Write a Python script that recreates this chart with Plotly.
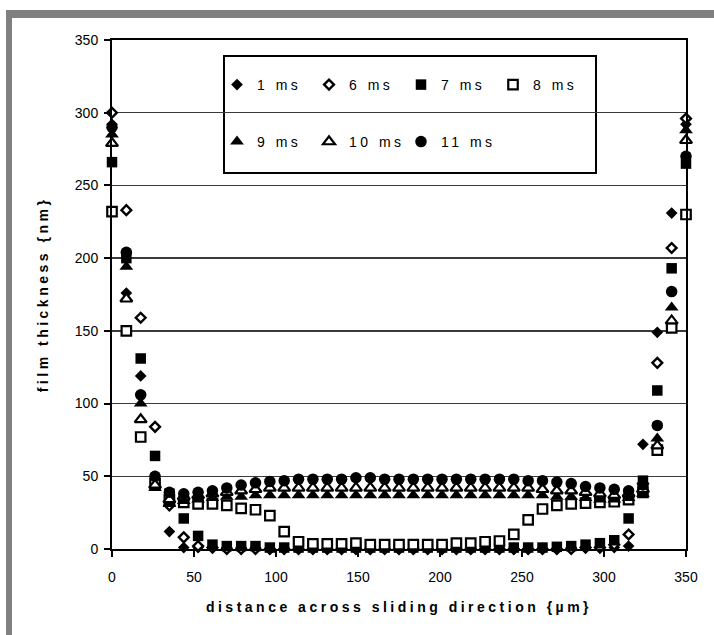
import plotly.graph_objects as go

# distance across sliding direction (um)
x_um = [0, 8.75, 17.5, 26.25, 35, 43.75, 52.5, 61.25, 70, 78.75, 87.5, 96.25, 105,
        113.75, 122.5, 131.25, 140, 148.75, 157.5, 166.25, 175, 183.75, 192.5, 201.25,
        210, 218.75, 227.5, 236.25, 245, 253.75, 262.5, 271.25, 280, 288.75, 297.5,
        306.25, 315, 323.75, 332.5, 341.25, 350]

# film thickness (nm) for each time step
ms1 = [292, 176, 119, 50, 12, 1, 1, 1, 1, 1, 1, 0, 0, 0, 0, 0, 0, 0, 0, 0, 0,
       0, 0, 0, 0, 0, 0, 0, 0, 0, 0, 0, 1, 1, 1, 1, 2, 72, 149, 231, 292]
ms6 = [300, 233, 159, 84, 30, 8, 2, 1, 0, 0, 0, 0, 0, 0, 0, 0, 0, 0, 0, 0, 0,
       0, 0, 0, 0, 0, 0, 0, 0, 0, 0, 0, 0, 1, 1, 3, 10, 45, 128, 207, 296]
ms7 = [266, 200, 131, 64, 38, 21, 9, 3, 2, 2, 2, 1, 1, 1, 1, 1, 1, 1, 1, 1, 1,
       1, 1, 1, 1, 1, 1, 1, 1, 1, 1, 1.5, 2, 3, 4, 6, 21, 47, 109, 193, 265]
ms8 = [232, 150, 77, 45, 34, 32, 31, 31, 30, 28, 27, 23, 12, 5, 3.5, 3.5, 3.5, 4, 3, 3, 3,
       3, 3, 3, 4, 4, 5, 5.5, 10, 20, 27.5, 30, 31, 31.5, 32, 32.5, 34, 39, 68, 152, 230]
ms9 = [285, 194, 100, 42, 31, 33, 34, 35, 36, 36, 37, 37, 37, 37, 37, 37, 37, 37, 37, 37, 37,
       37, 37, 37, 37, 37, 37, 37, 37, 37, 37, 36, 36, 35, 34, 34, 35, 38, 76, 166, 288]
ms10 = [279, 172, 89, 44, 34, 36, 37, 38, 39, 40, 41, 42, 42, 42, 42, 42, 42, 42, 42, 42, 42,
        42, 42, 42, 42, 42, 42, 42, 42, 42, 41, 40, 40, 39, 38, 37, 38, 41, 71, 157, 281]
ms11 = [290, 204, 106, 50, 39, 38, 39, 40, 42, 44, 45.5, 46.5, 47, 48, 48, 48, 48, 49, 49, 48, 48,
        48, 48, 48, 48, 48, 48, 48, 48, 47, 47, 46, 45, 43, 42, 41, 40, 44, 85, 177, 270]

x_ticks = [0, 50, 100, 150, 200, 250, 300, 350]
y_ticks = [0, 50, 100, 150, 200, 250, 300, 350]

series = [
    ("1 ms", ms1, "diamond", "black", 9, 0, "legend"),
    ("6 ms", ms6, "diamond", "white", 7.5, 2.4, "legend"),
    ("7 ms", ms7, "square", "black", 10.5, 0, "legend"),
    ("8 ms", ms8, "square", "white", 9.5, 2.2, "legend"),
    ("9 ms", ms9, "triangle-up", "black", 12, 0, "legend2"),
    ("10 ms", ms10, "triangle-up", "white", 10.5, 2.2, "legend2"),
    ("11 ms", ms11, "circle", "black", 11.5, 0, "legend2"),
]

FONT = "Liberation Sans, Arial, Helvetica, sans-serif"

fig = go.Figure()
for name, vals, sym, fill, size, lw, leg in series:
    fig.add_trace(go.Scatter(
        x=x_um, y=vals, mode="markers", name=name, legend=leg,
        cliponaxis=False, hoverinfo="skip",
        marker=dict(symbol=sym, color=fill, size=size,
                    line=dict(color="black", width=lw)),
    ))

L, R, T, B = 112, 28, 40, 86
W, H = 714, 635
pw, ph = W - L - R, H - T - B


def px(xp):
    return (xp - L) / pw


def py(yp):
    return (H - B - yp) / ph


shapes = [
    # legend box
    dict(type="rect", xref="paper", yref="paper", layer="between",
         x0=px(224), x1=px(596), y0=py(173), y1=py(56),
         fillcolor="white", line=dict(color="black", width=2)),
    # grey frame (top and left)
    dict(type="rect", xref="paper", yref="paper", layer="above",
         x0=px(6), x1=px(720), y0=py(18), y1=py(10),
         fillcolor="#808080", line=dict(width=0)),
    dict(type="rect", xref="paper", yref="paper", layer="above",
         x0=px(6), x1=px(12), y0=py(640), y1=py(10),
         fillcolor="#808080", line=dict(width=0)),
]

legend_common = dict(orientation="h", xanchor="left", yanchor="top",
                     bgcolor="rgba(0,0,0,0)", borderwidth=0,
                     entrywidth=47, entrywidthmode="pixels",
                     font=dict(family=FONT, size=14, color="black"),
                     itemclick=False, itemdoubleclick=False)

fig.update_layout(
    width=W, height=H,
    margin=dict(l=L, r=R, t=T, b=B, autoexpand=False),
    paper_bgcolor="white", plot_bgcolor="white",
    font=dict(family=FONT, size=14, color="black"),
    shapes=shapes,
    hovermode=False,
    legend=dict(x=px(217), y=py(69), **legend_common),
    legend2=dict(x=px(217), y=py(126), **legend_common),
    xaxis=dict(
        range=[0, 350], tickvals=x_ticks, ticktext=[str(v) for v in x_ticks],
        showgrid=False, zeroline=False,
        showline=True, linecolor="black", linewidth=2, mirror=True,
        ticks="outside", ticklen=6, tickwidth=2, tickcolor="black",
        ticklabelstandoff=8,
        tickfont=dict(family=FONT, size=14, color="black"),
        title=dict(text="<b>distance across sliding direction {µm}</b>",
                   font=dict(family=FONT, size=14, color="black"), standoff=18),
        automargin=False,
    ),
    yaxis=dict(
        range=[0, 350], tickvals=y_ticks, ticktext=[str(v) for v in y_ticks],
        showgrid=True, gridcolor="#3a3a3a", gridwidth=1.5, zeroline=False,
        showline=True, linecolor="black", linewidth=2, mirror=True,
        ticks="outside", ticklen=6, tickwidth=2, tickcolor="black",
        ticklabelstandoff=3,
        tickfont=dict(family=FONT, size=14, color="black"),
        title=dict(text="<b>film thickness {nm}</b>",
                   font=dict(family=FONT, size=14, color="black"), standoff=23),
        automargin=False,
    ),
)

post = """
(function(){
  var st = document.createElement('style');
  st.textContent = 'body{margin:0;padding:0;} ' +
    '.infolayer text, .legendtext { letter-spacing: 3.5px; }';
  document.head.appendChild(st);
})();
"""

fig.write_html("out.html", post_script=post,
               config={"displayModeBar": False, "staticPlot": True})
